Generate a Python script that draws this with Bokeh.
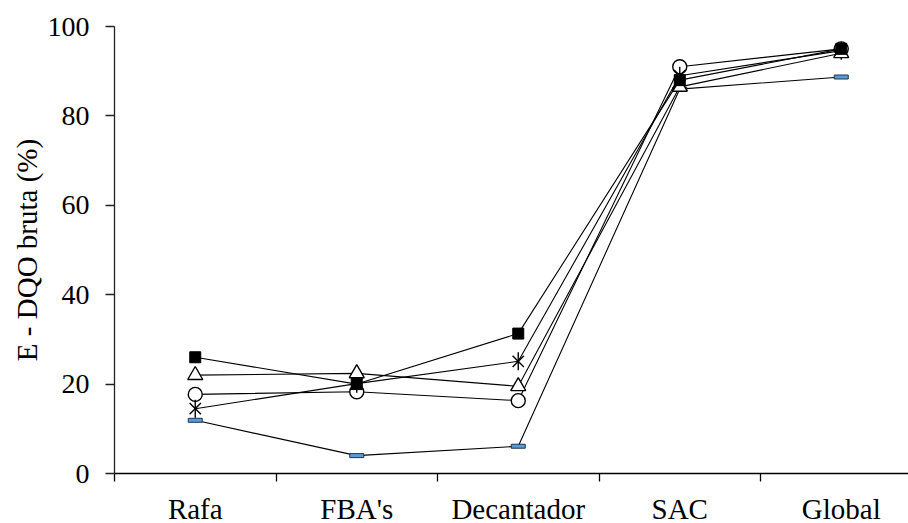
import math
from bokeh.plotting import figure
from bokeh.models import FixedTicker, Range1d
from bokeh.embed import file_html
from bokeh.resources import INLINE

# Removal efficiency of raw COD per treatment stage
stages = ["Rafa", "FBA's", "Decantador", "SAC", "Global"]
serie_quadrado = [26.0, 20.0, 31.3, 88.0, 95.0]
serie_triangulo = [22.0, 22.4, 19.5, 86.5, 94.0]
serie_circulo = [17.7, 18.3, 16.3, 91.0, 95.0]
serie_asterisco = [14.5, 20.1, 25.1, 89.0, 94.6]
serie_traco = [11.9, 4.0, 6.1, 86.0, 88.7]
y_ticks = [0, 20, 40, 60, 80, 100]

xs = [i + 0.5 for i in range(len(stages))]
FONT = "Liberation Serif"

p = figure(
    width=908, height=523,
    frame_width=794, frame_height=447,
    min_border_left=114, min_border_right=0,
    min_border_top=26, min_border_bottom=50,
    x_range=Range1d(0, 794 / 161.5), y_range=Range1d(0, 100),
    output_backend="svg", toolbar_location=None,
)
p.outline_line_color = None
p.grid.grid_line_color = None

# x axis: labels centred on each stage, ticks on the stage boundaries
xa = p.xaxis[0]
xa.ticker = FixedTicker(ticks=xs, minor_ticks=[0, 1, 2, 3, 4])
xa.major_label_overrides = {x: s for x, s in zip(xs, stages)}
xa.major_tick_out = 0
xa.major_tick_in = 0
xa.minor_tick_out = 8
xa.minor_tick_in = 0
xa.major_label_standoff = 11
xa.major_label_text_font = FONT
xa.major_label_text_font_size = "29px"
xa.major_label_text_color = "black"
xa.axis_line_color = "black"
xa.minor_tick_line_color = "black"
xa.axis_line_width = 1.3
xa.minor_tick_line_width = 1.3

ya = p.yaxis[0]
ya.ticker = FixedTicker(ticks=y_ticks, minor_ticks=[])
ya.major_tick_out = 9
ya.major_tick_in = 0
ya.major_label_standoff = 16
ya.major_label_text_font = FONT
ya.major_label_text_font_size = "28px"
ya.major_label_text_color = "black"
ya.axis_label = "E - DQO bruta (%)"
ya.axis_label_text_font = FONT
ya.axis_label_text_font_size = "29px"
ya.axis_label_text_font_style = "normal"
ya.axis_label_text_color = "black"
ya.axis_label_standoff = 2
ya.axis_line_color = "#222222"
ya.major_tick_line_color = "#222222"
ya.axis_line_width = 1.3
ya.major_tick_line_width = 1.3

LW = 1.1

# traço azul
p.line(xs, serie_traco, line_color="black", line_width=LW)
p.rect(xs, serie_traco, width=14, height=4, width_units="screen", height_units="screen",
       fill_color="#5b9bd5", line_color="#1d3550", line_width=1)

# círculo aberto
p.line(xs, serie_circulo, line_color="black", line_width=LW)
p.scatter(xs, serie_circulo, marker="circle", size=14, fill_color="white",
          line_color="black", line_width=1.4)

# asterisco
p.line(xs, serie_asterisco, line_color="black", line_width=LW)
p.scatter(xs, serie_asterisco, marker="x", size=16, line_color="black", line_width=1.4)
p.scatter(xs, serie_asterisco, marker="dash", size=18, angle=math.pi / 2,
          line_color="black", line_width=1.4)

# triângulo aberto
p.line(xs, serie_triangulo, line_color="black", line_width=LW)
p.scatter(xs, serie_triangulo, marker="triangle", size=15, fill_color="white",
          line_color="black", line_width=1.4)

# quadrado cheio
p.line(xs, serie_quadrado, line_color="black", line_width=LW)
p.scatter(xs, serie_quadrado, marker="square", size=11, fill_color="black",
          line_color="black", line_width=1)

open("out.html", "w").write(file_html(p, INLINE))
